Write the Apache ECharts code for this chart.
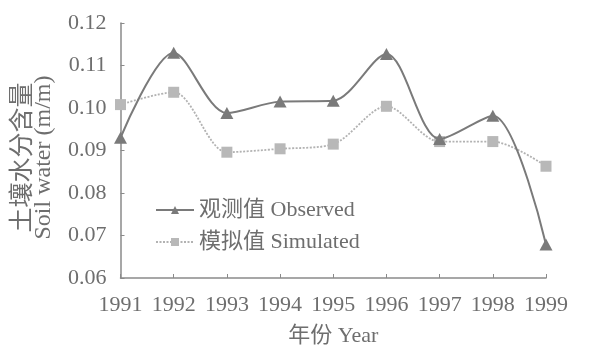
<!DOCTYPE html>
<html>
<head>
<meta charset="utf-8">
<script src="https://cdn.jsdelivr.net/npm/echarts@6/dist/echarts.min.js"></script>
<style>
  html, body { margin: 0; padding: 0; background: #fff; }
  #chart { width: 589px; height: 352px; }
</style>
</head>
<body>
<div id="chart"></div>
<script>
// Years on the horizontal axis
const years = ['1991', '1992', '1993', '1994', '1995', '1996', '1997', '1998', '1999'];
// Soil water content (m/m)
const observed = [0.0930, 0.1130, 0.0988, 0.1015, 0.1017, 0.1127, 0.0927, 0.0982, 0.0679];
const simulated = [0.1008, 0.1037, 0.0896, 0.0904, 0.0915, 0.1004, 0.0921, 0.0921, 0.0863];
// Series names and axis titles
const seriesNames = ['观测值 Observed', '模拟值 Simulated'];
const yTitleCn = '土壤水分含量';
const yTitleEn = 'Soil water (m/m)';
const xTitle = '年份 Year';

const FONT = "'Liberation Serif', 'Noto Sans CJK SC', serif";
const TEXT = '#6e6e6e';
const AXIS = '#8a8a8a';

const chart = echarts.init(document.getElementById('chart'), null, { renderer: 'canvas' });

chart.setOption({
  backgroundColor: '#ffffff',
  animation: false,
  grid: { left: 116, right: 43, top: 23, bottom: 69, containLabel: false },
  legend: {
    orient: 'vertical',
    left: 150,
    top: 194,
    itemWidth: 38,
    itemHeight: 10,
    itemGap: 10,
    textStyle: { fontFamily: FONT, fontSize: 22, color: TEXT },
    data: seriesNames
  },
  xAxis: {
    type: 'category',
    data: years,
    boundaryGap: false,
    name: xTitle,
    nameLocation: 'middle',
    nameGap: 47,
    nameTextStyle: { fontFamily: FONT, fontSize: 22, color: TEXT },
    axisLine: { lineStyle: { color: AXIS, width: 1.5 } },
    axisTick: { inside: true, length: 4, interval: 0, lineStyle: { color: AXIS } },
    axisLabel: { fontFamily: FONT, fontSize: 22, color: TEXT, margin: 16, interval: 0 },
    splitLine: { show: false }
  },
  yAxis: {
    type: 'value',
    min: 0.06,
    max: 0.12,
    interval: 0.01,
    name: '{cn|' + yTitleCn + '}\n{en|' + yTitleEn + '}',
    nameLocation: 'middle',
    nameRotate: 90,
    nameGap: 66,
    nameTextStyle: {
      color: TEXT,
      padding: [0, 14, 0, 0],
      rich: {
        cn: { fontFamily: "'Noto Sans CJK SC', sans-serif", fontSize: 25, color: TEXT, lineHeight: 24 },
        en: { fontFamily: FONT, fontSize: 24, color: TEXT, lineHeight: 22 }
      }
    },
    axisLine: { show: true, lineStyle: { color: AXIS, width: 1.5 } },
    axisTick: { show: true, inside: true, length: 4, lineStyle: { color: AXIS } },
    axisLabel: {
      fontFamily: FONT, fontSize: 22, color: TEXT, margin: 14,
      formatter: v => v.toFixed(2)
    },
    splitLine: { show: false }
  },
  series: [
    {
      name: seriesNames[0],
      type: 'line',
      data: observed,
      smooth: 0.3,
      symbol: 'triangle',
      symbolSize: [13, 12],
      showAllSymbol: true,
      lineStyle: { color: '#7a7a7a', width: 2 },
      itemStyle: { color: '#7a7a7a' },
      z: 3
    },
    {
      name: seriesNames[1],
      type: 'line',
      data: simulated,
      smooth: 0.3,
      symbol: 'rect',
      symbolSize: 11,
      showAllSymbol: true,
      lineStyle: { color: '#b2b2b2', width: 1.8, type: [2, 1.5] },
      itemStyle: { color: '#b8b8b8' },
      z: 2
    }
  ]
});
</script>
</body>
</html>
